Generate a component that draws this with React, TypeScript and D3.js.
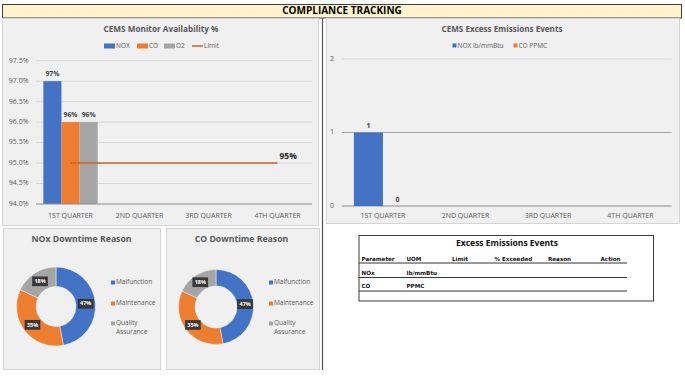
import React from 'react';
import * as d3 from 'd3';

const quarters = ['1ST QUARTER', '2ND QUARTER', '3RD QUARTER', '4TH QUARTER'];
const availSeries = ['NOX', 'CO', 'O2'];
const noxAvail = [97, null, null, null];
const coAvail = [96, null, null, null];
const o2Avail = [96, null, null, null];
const limitAvail = [95, 95, 95, 95];
const availTicks = [94.0, 94.5, 95.0, 95.5, 96.0, 96.5, 97.0, 97.5];

const excessSeries = ['NOX lb/mmBtu', 'CO PPMC'];
const excessNox = [1, null, null, null];
const excessCo = [0, null, null, null];
const excessTicks = [0, 1, 2];

const reasons = ['Malfunction', 'Maintenance', 'Quality Assurance'];
const noxDowntime = [47, 35, 18];
const coDowntime = [47, 35, 18];

const tableCols = ['Parameter', 'UOM', 'Limit', '% Exceeded', 'Reason', 'Action'];
const tableParams = ['NOx', 'CO'];
const tableUom = ['lb/mmBtu', 'PPMC'];

const BLUE = '#4472c4';
const ORANGE = '#ed7d31';
const GRAY = '#a5a5a5';
const LIMIT = '#c8642a';
const FONT = "'Open Sans', 'Liberation Sans', sans-serif";
const AX = '#595959';

function AvailChart() {
  const x = d3.scaleBand<string>().domain(quarters).range([36, 312]);
  const sub = d3.scaleBand<string>().domain(availSeries).range([0, x.bandwidth()]).paddingOuter(0.405);
  const y = d3.scaleLinear().domain([94, 97.5]).range([204, 60.7]);
  const seriesVals = [noxAvail, coAvail, o2Avail];
  const colors = [BLUE, ORANGE, GRAY];
  const lastIdx = quarters.length - 1;
  return (
    <g>
      <rect x={2.5} y={18.5} width={316} height={207} fill="#f0f0f0" stroke="#d4d4d4" />
      <text x={161} y={30} textAnchor="middle" dominantBaseline="middle" fontSize={8.2} fontWeight="bold" fill={AX} fontFamily={FONT}>CEMS Monitor Availability %</text>
      {availSeries.map((s, i) => {
        const lx = [104, 137, 164][i];
        return (
          <g key={s}>
            <rect x={lx} y={43.5} width={11} height={5} fill={colors[i]} />
            <text x={lx + 12} y={46.5} dominantBaseline="middle" fontSize={6.5} fill={AX} fontFamily={FONT}>{s}</text>
          </g>
        );
      })}
      <line x1={192} x2={203} y1={46} y2={46} stroke={LIMIT} strokeWidth={1.5} />
      <text x={204} y={46.5} dominantBaseline="middle" fontSize={6.5} fill={AX} fontFamily={FONT}>Limit</text>
      {availTicks.map((t) => (
        <g key={t}>
          {t > 94 && <line x1={36} x2={312} y1={y(t)} y2={y(t)} stroke="#d9d9d9" strokeWidth={1} />}
          <text x={28.5} y={y(t)} textAnchor="end" dominantBaseline="middle" fontSize={7} fill={AX} fontFamily={FONT}>{t.toFixed(1)}%</text>
        </g>
      ))}
      {seriesVals.map((vals, si) =>
        vals.map((v, qi) =>
          v == null ? null : (
            <g key={si + '-' + qi}>
              <rect x={(x(quarters[qi]) as number) + (sub(availSeries[si]) as number)} y={y(v)} width={sub.bandwidth()} height={y(94) - y(v)} fill={colors[si]} />
              <text x={(x(quarters[qi]) as number) + (sub(availSeries[si]) as number) + sub.bandwidth() / 2} y={y(v) - 7} textAnchor="middle" dominantBaseline="middle" fontSize={6.8} fontWeight="bold" fill="#404040" fontFamily={FONT}>{Math.round(v)}%</text>
            </g>
          )
        )
      )}
      <line x1={36} x2={312} y1={y(94)} y2={y(94)} stroke="#8c8c8c" strokeWidth={1} />
      <path d={d3.line<number>().x((_, i) => (x(quarters[i]) as number) + x.bandwidth() / 2).y((d) => y(d))(limitAvail) || ''} stroke={LIMIT} strokeWidth={1.6} fill="none" />
      <text x={(x(quarters[lastIdx]) as number) + x.bandwidth() / 2 + 2} y={y(limitAvail[lastIdx]) - 6} dominantBaseline="middle" fontSize={8.5} fontWeight="bold" fill="#262626" fontFamily={FONT}>{limitAvail[lastIdx]}%</text>
      {quarters.map((q) => (
        <text key={q} x={(x(q) as number) + x.bandwidth() / 2} y={216} textAnchor="middle" dominantBaseline="middle" fontSize={7} fill={AX} fontFamily={FONT}>{q}</text>
      ))}
    </g>
  );
}

function ExcessChart() {
  const x = d3.scaleBand<string>().domain(quarters).range([341.7, 671.7]);
  const sub = d3.scaleBand<string>().domain(excessSeries).range([0, x.bandwidth()]).paddingOuter(0.42);
  const y = d3.scaleLinear().domain([0, 2]).range([206, 59]);
  const seriesVals = [excessNox, excessCo];
  const colors = [BLUE, ORANGE];
  return (
    <g>
      <rect x={326.5} y={18.5} width={353} height={205} fill="#f0f0f0" stroke="#d4d4d4" />
      <text x={502} y={29.5} textAnchor="middle" dominantBaseline="middle" fontSize={8.1} fontWeight="bold" fill={AX} fontFamily={FONT}>CEMS Excess Emissions Events</text>
      {excessSeries.map((s, i) => {
        const lx = [452.5, 513.5][i];
        return (
          <g key={s}>
            <rect x={lx} y={43.5} width={4} height={4} fill={colors[i]} />
            <text x={lx + 5} y={46} dominantBaseline="middle" fontSize={6.5} fill={AX} fontFamily={FONT}>{s}</text>
          </g>
        );
      })}
      {excessTicks.map((t) => (
        <g key={t}>
          <line x1={341.7} x2={671.7} y1={y(t)} y2={y(t)} stroke={t === 0 ? '#8c8c8c' : t === 1 ? '#a6a6a6' : '#d9d9d9'} strokeWidth={1} />
          <text x={332} y={y(t)} textAnchor="middle" dominantBaseline="middle" fontSize={7} fill={AX} fontFamily={FONT}>{t}</text>
        </g>
      ))}
      {seriesVals.map((vals, si) =>
        vals.map((v, qi) =>
          v == null ? null : (
            <g key={si + '-' + qi}>
              <rect x={(x(quarters[qi]) as number) + (sub(excessSeries[si]) as number)} y={y(v)} width={sub.bandwidth()} height={y(0) - y(v)} fill={colors[si]} />
              <text x={(x(quarters[qi]) as number) + (sub(excessSeries[si]) as number) + sub.bandwidth() / 2} y={y(v) - 6} textAnchor="middle" dominantBaseline="middle" fontSize={6.8} fontWeight="bold" fill="#404040" fontFamily={FONT}>{v}</text>
            </g>
          )
        )
      )}
      {quarters.map((q) => (
        <text key={q} x={(x(q) as number) + x.bandwidth() / 2} y={216.5} textAnchor="middle" dominantBaseline="middle" fontSize={7} fill={AX} fontFamily={FONT}>{q}</text>
      ))}
    </g>
  );
}

function Donut({ px, pw, title, titleX, cx, cy, rOut, rIn, vals, legX }: any) {
  const pie = d3.pie<number>().sort(null)(vals);
  const arc = d3.arc<d3.PieArcDatum<number>>().innerRadius(rIn).outerRadius(rOut);
  const lab = d3.arc<d3.PieArcDatum<number>>().innerRadius((rIn + rOut) / 2).outerRadius((rIn + rOut) / 2);
  const colors = [BLUE, ORANGE, GRAY];
  return (
    <g>
      <rect x={px + 0.5} y={228.5} width={pw} height={141} fill="#f0f0f0" stroke="#d4d4d4" />
      <text x={titleX} y={240} textAnchor="middle" dominantBaseline="middle" fontSize={8.7} fontWeight="bold" fill={AX} fontFamily={FONT}>{title}</text>
      <g transform={`translate(${cx},${cy})`}>
        {pie.map((p, i) => (
          <path key={i} d={arc(p) || ''} fill={colors[i]} stroke="#f0f0f0" strokeWidth={0.5} />
        ))}
        {pie.map((p, i) => {
          const [lx, ly] = lab.centroid(p);
          return (
            <g key={'l' + i}>
              <rect x={lx - 7.5} y={ly - 4.5} width={15} height={9} fill="#3a3a3a" stroke="#222" strokeWidth={0.5} />
              <text x={lx} y={ly + 0.3} textAnchor="middle" dominantBaseline="middle" fontSize={5.5} fontWeight="bold" fill="#fff" fontFamily={FONT}>{p.data}%</text>
            </g>
          );
        })}
      </g>
      {reasons.map((r, i) => {
        const ly = [282.5, 303.5, 323.5][i];
        const words = r === 'Quality Assurance' ? ['Quality', 'Assurance'] : [r];
        return (
          <g key={r}>
            <rect x={legX} y={ly - 2} width={4} height={4} fill={colors[i]} />
            {words.map((w, wi) => (
              <text key={w} x={legX + 5} y={ly + wi * 8.5} dominantBaseline="middle" fontSize={6.5} fill={AX} fontFamily={FONT}>{w}</text>
            ))}
          </g>
        );
      })}
    </g>
  );
}

function EventsTable() {
  const colX = [361.5, 406.5, 452, 494.5, 548, 600.5];
  const TF = "'DejaVu Sans', 'Liberation Sans', sans-serif";
  return (
    <g>
      <rect x={359} y={235.5} width={294.5} height={65.5} fill="#fff" stroke="#3a3a3a" strokeWidth={1} />
      <text x={507} y={243.5} textAnchor="middle" dominantBaseline="middle" fontSize={8.5} fontWeight="bold" fill="#111" fontFamily={FONT}>Excess Emissions Events</text>
      {tableCols.map((c, i) => (
        <text key={c} x={colX[i]} y={259} dominantBaseline="middle" fontSize={5.6} fontWeight="bold" fill="#111" fontFamily={TF}>{c}</text>
      ))}
      <line x1={359} x2={627} y1={263} y2={263} stroke="#333" strokeWidth={1} />
      {tableParams.map((p, i) => (
        <g key={p}>
          <text x={colX[0]} y={[273.5, 286][i]} dominantBaseline="middle" fontSize={5.6} fontWeight="bold" fill="#111" fontFamily={TF}>{p}</text>
          <text x={colX[1]} y={[273.5, 286][i]} dominantBaseline="middle" fontSize={5.6} fontWeight="bold" fill="#111" fontFamily={TF}>{tableUom[i]}</text>
          <line x1={359} x2={627} y1={[277.5, 291][i]} y2={[277.5, 291][i]} stroke="#333" strokeWidth={1} />
        </g>
      ))}
    </g>
  );
}

export default function App() {
  return (
    <svg width={685} height={376} style={{ position: 'absolute', left: 0, top: 0, background: '#fff' }}>
      <rect x={2.5} y={4.5} width={679} height={13.5} fill="#fff2cc" stroke="#3f3f3f" strokeWidth={1} />
      <text x={342} y={11.5} textAnchor="middle" dominantBaseline="middle" fontSize={10} fontWeight="bold" fill="#000" fontFamily={FONT}>COMPLIANCE TRACKING</text>
      <AvailChart />
      <ExcessChart />
      <line x1={322.5} x2={322.5} y1={18} y2={370} stroke="#555" strokeWidth={1.2} />
      <Donut px={3} pw={157} title="NOx Downtime Reason" titleX={81.5} cx={56} cy={306.5} rOut={39.5} rIn={20} vals={noxDowntime} legX={111} />
      <Donut px={166} pw={153} title="CO Downtime Reason" titleX={241.5} cx={216} cy={307} rOut={37.5} rIn={21} vals={coDowntime} legX={269} />
      <EventsTable />
    </svg>
  );
}
